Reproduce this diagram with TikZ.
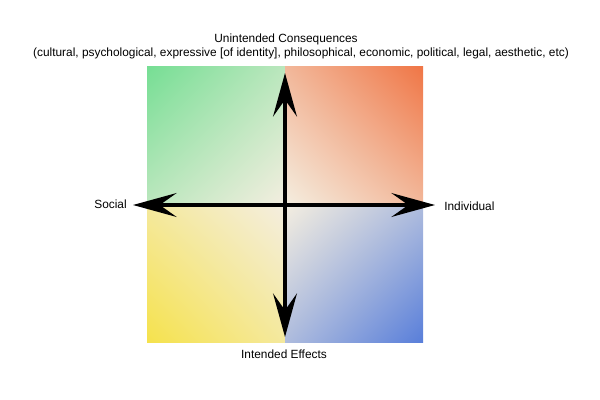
\documentclass[tikz,border=0pt]{standalone}
\usepackage{fontspec}
\setmainfont{Liberation Sans}
\usepackage{xcolor}
\usepackage{tikz}
\usetikzlibrary{arrows.meta,shadings}
\definecolor{qgreen}{RGB}{118,222,148}
\definecolor{qorange}{RGB}{240,118,70}
\definecolor{qyellow}{RGB}{245,226,76}
\definecolor{qblue}{RGB}{88,126,218}
\definecolor{qmid}{RGB}{244,238,224}

\begin{document}
\begin{tikzpicture}[x=0.025cm,y=-0.025cm,>={Stealth[length=31pt,width=17pt,inset=12pt]},font=\fontsize{8.45}{10}\selectfont]
\useasboundingbox (0,0) rectangle (600,400);
\shade[upper left=qgreen,upper right=qgreen!45!qmid,lower left=qgreen!45!qmid,lower right=qmid](147,67)rectangle(285,205);
\shade[upper right=qorange,upper left=qorange!45!qmid,lower right=qorange!45!qmid,lower left=qmid](285,67)rectangle(423,205);
\shade[lower left=qyellow,upper left=qyellow!45!qmid,lower right=qyellow!45!qmid,upper right=qmid](147,205)rectangle(285,343);
\shade[lower right=qblue,upper right=qblue!45!qmid,lower left=qblue!45!qmid,upper left=qmid](285,205)rectangle(423,343);
\coordinate (w) at (133,205);
\coordinate (e) at (435,205);
\coordinate (n) at (285,73);
\coordinate (s) at (285,337);
\draw[<->,line width=2.2pt](w)--(e);
\draw[<->,line width=2.2pt](n)--(s);
\node[anchor=base] (title) at (286,43) {Unintended Consequences};
\node[anchor=base] (kinds) at (301,57) {(cultural, psychological, expressive [of identity], philosophical, economic, political, legal, aesthetic, etc)};
\node[anchor=base east,inner sep=0pt] (social) at (127,209) {Social};
\node[anchor=base west,inner sep=0pt] (indiv) at (444,211) {Individual};
\node[anchor=base] (effects) at (284,359) {Intended Effects};
\end{tikzpicture}
\end{document}
